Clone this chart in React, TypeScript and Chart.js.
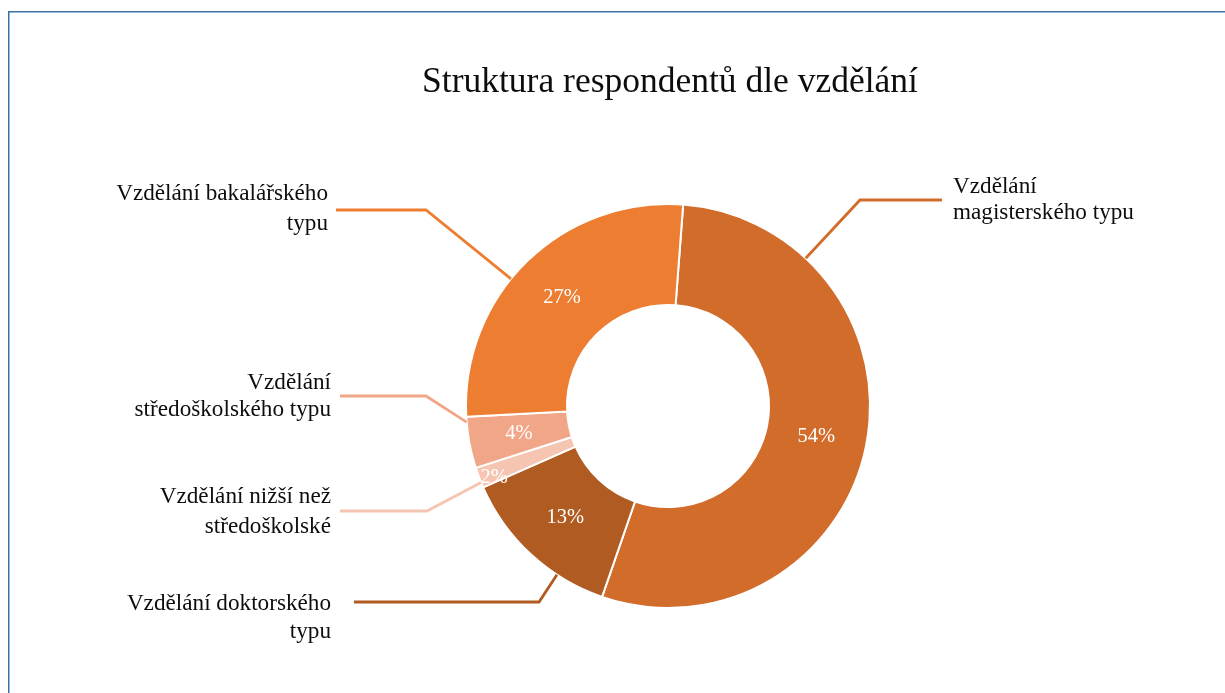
import React, { useEffect, useRef } from "react";
import { Chart, registerables } from "chart.js";

Chart.register(...registerables);

const chartTitle = "Struktura respondentů dle vzdělání";
const categories = [
  "Vzdělání magisterského typu",
  "Vzdělání doktorského typu",
  "Vzdělání nižší než středoškolské",
  "Vzdělání středoškolského typu",
  "Vzdělání bakalářského typu",
];
const categoryLines = [
  ["Vzdělání", "magisterského typu"],
  ["Vzdělání doktorského", "typu"],
  ["Vzdělání nižší než", "středoškolské"],
  ["Vzdělání", "středoškolského typu"],
  ["Vzdělání bakalářského", "typu"],
];
const counts = [66, 16, 2, 5, 33];
const colors = ["#D26C2B", "#B05B22", "#F6C5B1", "#F1A688", "#ED7D31"];

// label placement (layout, not data)
const labelLayout = [
  { x: 953, y: 187, align: "left", lineStartX: 942, elbowX: 860, lineY: 200, lh: 26 },
  { x: 331, y: 604, align: "right", lineStartX: 354, elbowX: 539, lineY: 602, lh: 28 },
  { x: 331, y: 497, align: "right", lineStartX: 340, elbowX: 427, lineY: 511, lh: 30 },
  { x: 331, y: 383, align: "right", lineStartX: 340, elbowX: 426, lineY: 396, lh: 27 },
  { x: 328, y: 194, align: "right", lineStartX: 336, elbowX: 426, lineY: 210, lh: 30 },
];
const pctRadiusFrac = [0.5, 0.5, 0.86, 0.5, 0.5];
const pctAngleShift = [0, 0, -1.5, 0, 0];

export default function App() {
  const ref = useRef<HTMLCanvasElement>(null);

  useEffect(() => {
    const total = counts.reduce((a, b) => a + b, 0);
    const overlay = {
      id: "overlay",
      afterDraw(chart: any) {
        const ctx = chart.ctx as CanvasRenderingContext2D;
        ctx.save();
        // frame
        ctx.strokeStyle = "#3B6FA8";
        ctx.lineWidth = 1.5;
        ctx.beginPath();
        ctx.moveTo(8.75, 693);
        ctx.lineTo(8.75, 11.75);
        ctx.lineTo(1225, 11.75);
        ctx.stroke();

        // title
        ctx.fillStyle = "#0d0d0d";
        ctx.font = '35.5px "Liberation Serif", "Times New Roman", serif';
        ctx.textAlign = "center";
        ctx.textBaseline = "middle";
        ctx.fillText(chartTitle, 670, 83);

        const meta = chart.getDatasetMeta(0);
        meta.data.forEach((arc: any, i: number) => {
          const p = arc.getProps(["x", "y", "startAngle", "endAngle", "innerRadius", "outerRadius"], true);
          const L = labelLayout[i];
          // leader line
          let a = Math.atan2(L.lineY - p.y, L.elbowX - p.x);
          while (a < p.startAngle) a += Math.PI * 2;
          while (a > p.startAngle + Math.PI * 2) a -= Math.PI * 2;
          const m = (1.5 * Math.PI) / 180;
          if (a > p.endAngle) {
            const dEnd = a - p.endAngle;
            const dStart = p.startAngle + Math.PI * 2 - a;
            a = dEnd < dStart ? p.endAngle - m : p.startAngle + m;
          } else {
            a = Math.min(Math.max(a, p.startAngle + m), p.endAngle - m);
          }
          const ex = p.x + Math.cos(a) * p.outerRadius;
          const ey = p.y + Math.sin(a) * p.outerRadius;
          ctx.strokeStyle = colors[i];
          ctx.lineWidth = 2.8;
          ctx.lineJoin = "miter";
          ctx.beginPath();
          ctx.moveTo(L.lineStartX, L.lineY);
          ctx.lineTo(L.elbowX, L.lineY);
          ctx.lineTo(ex, ey);
          ctx.stroke();

          // category text
          ctx.fillStyle = "#0d0d0d";
          ctx.font = '23.2px "Liberation Serif", "Times New Roman", serif';
          ctx.textAlign = L.align as CanvasTextAlign;
          ctx.textBaseline = "middle";
          categoryLines[i].forEach((t, k) => ctx.fillText(t, L.x, L.y + k * L.lh));

          // percentage
          const mid = (p.startAngle + p.endAngle) / 2 + (pctAngleShift[i] * Math.PI) / 180;
          const r = p.innerRadius + pctRadiusFrac[i] * (p.outerRadius - p.innerRadius);
          ctx.fillStyle = "#ffffff";
          ctx.font = '20.5px "Liberation Serif", "Times New Roman", serif';
          ctx.textAlign = "center";
          ctx.fillText(Math.round((counts[i] / total) * 100) + "%", p.x + Math.cos(mid) * r, p.y + Math.sin(mid) * r);
        });
        ctx.restore();
      },
    };

    const chart = new Chart(ref.current as HTMLCanvasElement, {
      type: "doughnut",
      data: {
        labels: categories,
        datasets: [
          {
            data: counts,
            backgroundColor: colors,
            borderColor: "#ffffff",
            borderWidth: 2,
          },
        ],
      },
      options: {
        responsive: false,
        animation: false,
        rotation: 4.3,
        cutout: "50%",
        layout: { padding: { left: 465, top: 203, right: 354, bottom: 84 } },
        plugins: {
          legend: { display: false },
          tooltip: { enabled: false },
          title: { display: false },
        },
      },
      plugins: [overlay],
    });
    return () => chart.destroy();
  }, []);

  return (
    <div style={{ position: "fixed", left: 0, top: 0, width: 1225, height: 693, background: "#fff" }}>
      <canvas ref={ref} width={1225} height={693} style={{ width: 1225, height: 693, display: "block" }} />
    </div>
  );
}
